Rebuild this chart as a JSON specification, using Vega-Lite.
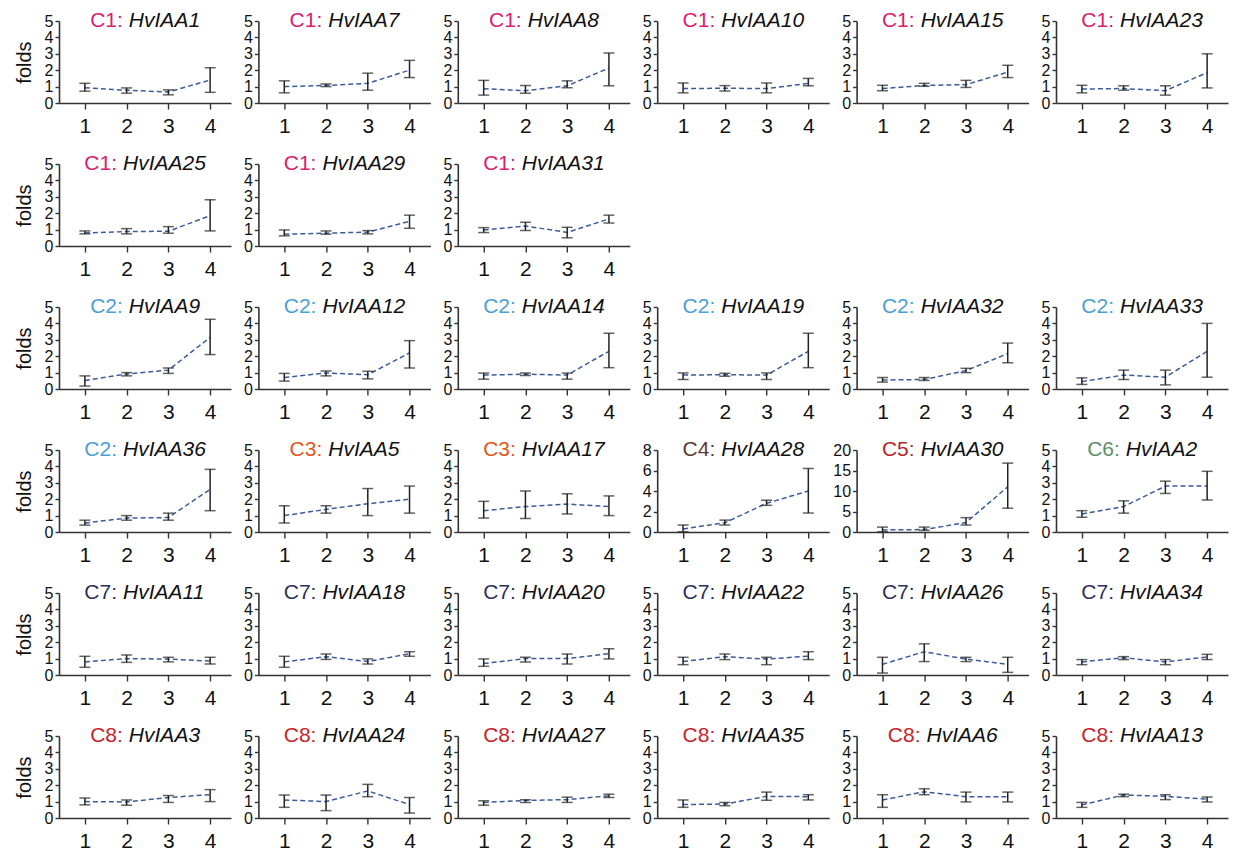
{
"$schema": "https://vega.github.io/schema/vega-lite/v6.json",
"padding": {"left": 14, "top": 10, "right": 5, "bottom": 5},
"background": "white",
"bounds": "flush",
"columns": 6,
"spacing": {"row": 61, "column": 27.4},
"data": {"values": [
{"cl":"C1","g":"HvIAA1","t":1,"m":0.93,"lo":0.72,"hi":1.2},{"cl":"C1","g":"HvIAA1","t":2,"m":0.78,"lo":0.6,"hi":0.92},{"cl":"C1","g":"HvIAA1","t":3,"m":0.67,"lo":0.5,"hi":0.8},{"cl":"C1","g":"HvIAA1","t":4,"m":1.4,"lo":0.65,"hi":2.15},
{"cl":"C1","g":"HvIAA7","t":1,"m":1.0,"lo":0.62,"hi":1.35},{"cl":"C1","g":"HvIAA7","t":2,"m":1.07,"lo":1.0,"hi":1.16},{"cl":"C1","g":"HvIAA7","t":3,"m":1.2,"lo":0.78,"hi":1.82},{"cl":"C1","g":"HvIAA7","t":4,"m":2.0,"lo":1.55,"hi":2.6},
{"cl":"C1","g":"HvIAA8","t":1,"m":0.87,"lo":0.48,"hi":1.38},{"cl":"C1","g":"HvIAA8","t":2,"m":0.75,"lo":0.6,"hi":1.06},{"cl":"C1","g":"HvIAA8","t":3,"m":1.05,"lo":0.93,"hi":1.35},{"cl":"C1","g":"HvIAA8","t":4,"m":2.13,"lo":1.05,"hi":3.05},
{"cl":"C1","g":"HvIAA10","t":1,"m":0.88,"lo":0.62,"hi":1.22},{"cl":"C1","g":"HvIAA10","t":2,"m":0.9,"lo":0.73,"hi":1.06},{"cl":"C1","g":"HvIAA10","t":3,"m":0.88,"lo":0.62,"hi":1.22},{"cl":"C1","g":"HvIAA10","t":4,"m":1.2,"lo":1.05,"hi":1.5},
{"cl":"C1","g":"HvIAA15","t":1,"m":0.88,"lo":0.75,"hi":1.08},{"cl":"C1","g":"HvIAA15","t":2,"m":1.07,"lo":1.02,"hi":1.2},{"cl":"C1","g":"HvIAA15","t":3,"m":1.12,"lo":0.95,"hi":1.38},{"cl":"C1","g":"HvIAA15","t":4,"m":1.88,"lo":1.55,"hi":2.3},
{"cl":"C1","g":"HvIAA23","t":1,"m":0.85,"lo":0.62,"hi":1.08},{"cl":"C1","g":"HvIAA23","t":2,"m":0.88,"lo":0.78,"hi":1.05},{"cl":"C1","g":"HvIAA23","t":3,"m":0.75,"lo":0.48,"hi":1.05},{"cl":"C1","g":"HvIAA23","t":4,"m":1.85,"lo":0.92,"hi":3.0},
{"cl":"C1","g":"HvIAA25","t":1,"m":0.8,"lo":0.74,"hi":0.92},{"cl":"C1","g":"HvIAA25","t":2,"m":0.88,"lo":0.74,"hi":1.06},{"cl":"C1","g":"HvIAA25","t":3,"m":0.9,"lo":0.78,"hi":1.18},{"cl":"C1","g":"HvIAA25","t":4,"m":1.85,"lo":0.92,"hi":2.82},
{"cl":"C1","g":"HvIAA29","t":1,"m":0.72,"lo":0.62,"hi":0.98},{"cl":"C1","g":"HvIAA29","t":2,"m":0.78,"lo":0.72,"hi":0.92},{"cl":"C1","g":"HvIAA29","t":3,"m":0.85,"lo":0.74,"hi":0.94},{"cl":"C1","g":"HvIAA29","t":4,"m":1.5,"lo":1.08,"hi":1.88},
{"cl":"C1","g":"HvIAA31","t":1,"m":0.98,"lo":0.82,"hi":1.12},{"cl":"C1","g":"HvIAA31","t":2,"m":1.22,"lo":0.95,"hi":1.45},{"cl":"C1","g":"HvIAA31","t":3,"m":0.83,"lo":0.5,"hi":1.14},{"cl":"C1","g":"HvIAA31","t":4,"m":1.65,"lo":1.4,"hi":1.88},
{"cl":"C2","g":"HvIAA9","t":1,"m":0.52,"lo":0.18,"hi":0.8},{"cl":"C2","g":"HvIAA9","t":2,"m":0.92,"lo":0.8,"hi":1.0},{"cl":"C2","g":"HvIAA9","t":3,"m":1.15,"lo":0.95,"hi":1.28},{"cl":"C2","g":"HvIAA9","t":4,"m":3.15,"lo":2.1,"hi":4.25},
{"cl":"C2","g":"HvIAA12","t":1,"m":0.7,"lo":0.48,"hi":0.95},{"cl":"C2","g":"HvIAA12","t":2,"m":0.98,"lo":0.8,"hi":1.1},{"cl":"C2","g":"HvIAA12","t":3,"m":0.87,"lo":0.62,"hi":1.08},{"cl":"C2","g":"HvIAA12","t":4,"m":2.2,"lo":1.28,"hi":2.95},
{"cl":"C2","g":"HvIAA14","t":1,"m":0.85,"lo":0.6,"hi":0.97},{"cl":"C2","g":"HvIAA14","t":2,"m":0.9,"lo":0.83,"hi":0.97},{"cl":"C2","g":"HvIAA14","t":3,"m":0.85,"lo":0.6,"hi":0.97},{"cl":"C2","g":"HvIAA14","t":4,"m":2.3,"lo":1.3,"hi":3.4},
{"cl":"C2","g":"HvIAA19","t":1,"m":0.85,"lo":0.58,"hi":0.98},{"cl":"C2","g":"HvIAA19","t":2,"m":0.87,"lo":0.78,"hi":0.96},{"cl":"C2","g":"HvIAA19","t":3,"m":0.85,"lo":0.58,"hi":0.98},{"cl":"C2","g":"HvIAA19","t":4,"m":2.3,"lo":1.3,"hi":3.4},
{"cl":"C2","g":"HvIAA32","t":1,"m":0.55,"lo":0.42,"hi":0.7},{"cl":"C2","g":"HvIAA32","t":2,"m":0.58,"lo":0.52,"hi":0.7},{"cl":"C2","g":"HvIAA32","t":3,"m":1.12,"lo":1.0,"hi":1.26},{"cl":"C2","g":"HvIAA32","t":4,"m":2.15,"lo":1.6,"hi":2.8},
{"cl":"C2","g":"HvIAA33","t":1,"m":0.45,"lo":0.28,"hi":0.68},{"cl":"C2","g":"HvIAA33","t":2,"m":0.85,"lo":0.58,"hi":1.15},{"cl":"C2","g":"HvIAA33","t":3,"m":0.72,"lo":0.25,"hi":1.15},{"cl":"C2","g":"HvIAA33","t":4,"m":2.3,"lo":0.72,"hi":4.0},
{"cl":"C2","g":"HvIAA36","t":1,"m":0.55,"lo":0.42,"hi":0.72},{"cl":"C2","g":"HvIAA36","t":2,"m":0.85,"lo":0.72,"hi":1.0},{"cl":"C2","g":"HvIAA36","t":3,"m":0.88,"lo":0.72,"hi":1.15},{"cl":"C2","g":"HvIAA36","t":4,"m":2.6,"lo":1.3,"hi":3.82},
{"cl":"C3","g":"HvIAA5","t":1,"m":1.0,"lo":0.55,"hi":1.6},{"cl":"C3","g":"HvIAA5","t":2,"m":1.38,"lo":1.15,"hi":1.6},{"cl":"C3","g":"HvIAA5","t":3,"m":1.72,"lo":1.0,"hi":2.65},{"cl":"C3","g":"HvIAA5","t":4,"m":2.0,"lo":1.15,"hi":2.8},
{"cl":"C3","g":"HvIAA17","t":1,"m":1.3,"lo":0.85,"hi":1.87},{"cl":"C3","g":"HvIAA17","t":2,"m":1.55,"lo":0.82,"hi":2.5},{"cl":"C3","g":"HvIAA17","t":3,"m":1.7,"lo":1.1,"hi":2.33},{"cl":"C3","g":"HvIAA17","t":4,"m":1.55,"lo":1.0,"hi":2.2},
{"cl":"C4","g":"HvIAA28","t":1,"m":0.3,"lo":0.02,"hi":0.68},{"cl":"C4","g":"HvIAA28","t":2,"m":0.9,"lo":0.68,"hi":1.16},{"cl":"C4","g":"HvIAA28","t":3,"m":2.8,"lo":2.6,"hi":3.1},{"cl":"C4","g":"HvIAA28","t":4,"m":4.0,"lo":1.85,"hi":6.2},
{"cl":"C5","g":"HvIAA30","t":1,"m":0.5,"lo":0.05,"hi":1.2},{"cl":"C5","g":"HvIAA30","t":2,"m":0.6,"lo":0.4,"hi":1.2},{"cl":"C5","g":"HvIAA30","t":3,"m":2.3,"lo":1.7,"hi":3.5},{"cl":"C5","g":"HvIAA30","t":4,"m":11.0,"lo":5.8,"hi":16.8},
{"cl":"C6","g":"HvIAA2","t":1,"m":1.1,"lo":0.9,"hi":1.3},{"cl":"C6","g":"HvIAA2","t":2,"m":1.55,"lo":1.15,"hi":1.9},{"cl":"C6","g":"HvIAA2","t":3,"m":2.8,"lo":2.35,"hi":3.1},{"cl":"C6","g":"HvIAA2","t":4,"m":2.8,"lo":1.95,"hi":3.7},
{"cl":"C7","g":"HvIAA11","t":1,"m":0.8,"lo":0.47,"hi":1.14},{"cl":"C7","g":"HvIAA11","t":2,"m":1.0,"lo":0.77,"hi":1.22},{"cl":"C7","g":"HvIAA11","t":3,"m":0.97,"lo":0.8,"hi":1.08},{"cl":"C7","g":"HvIAA11","t":4,"m":0.85,"lo":0.67,"hi":1.08},
{"cl":"C7","g":"HvIAA18","t":1,"m":0.8,"lo":0.47,"hi":1.14},{"cl":"C7","g":"HvIAA18","t":2,"m":1.12,"lo":0.95,"hi":1.28},{"cl":"C7","g":"HvIAA18","t":3,"m":0.82,"lo":0.67,"hi":0.98},{"cl":"C7","g":"HvIAA18","t":4,"m":1.3,"lo":1.14,"hi":1.42},
{"cl":"C7","g":"HvIAA20","t":1,"m":0.7,"lo":0.53,"hi":0.98},{"cl":"C7","g":"HvIAA20","t":2,"m":1.0,"lo":0.8,"hi":1.08},{"cl":"C7","g":"HvIAA20","t":3,"m":1.0,"lo":0.67,"hi":1.28},{"cl":"C7","g":"HvIAA20","t":4,"m":1.3,"lo":0.98,"hi":1.6},
{"cl":"C7","g":"HvIAA22","t":1,"m":0.82,"lo":0.63,"hi":1.08},{"cl":"C7","g":"HvIAA22","t":2,"m":1.12,"lo":0.94,"hi":1.28},{"cl":"C7","g":"HvIAA22","t":3,"m":0.97,"lo":0.63,"hi":1.08},{"cl":"C7","g":"HvIAA22","t":4,"m":1.15,"lo":0.94,"hi":1.42},
{"cl":"C7","g":"HvIAA26","t":1,"m":0.65,"lo":0.12,"hi":1.08},{"cl":"C7","g":"HvIAA26","t":2,"m":1.42,"lo":0.82,"hi":1.9},{"cl":"C7","g":"HvIAA26","t":3,"m":0.97,"lo":0.82,"hi":1.08},{"cl":"C7","g":"HvIAA26","t":4,"m":0.65,"lo":0.16,"hi":1.08},
{"cl":"C7","g":"HvIAA34","t":1,"m":0.8,"lo":0.63,"hi":0.94},{"cl":"C7","g":"HvIAA34","t":2,"m":1.05,"lo":0.94,"hi":1.12},{"cl":"C7","g":"HvIAA34","t":3,"m":0.8,"lo":0.63,"hi":0.94},{"cl":"C7","g":"HvIAA34","t":4,"m":1.1,"lo":0.94,"hi":1.26},
{"cl":"C8","g":"HvIAA3","t":1,"m":1.0,"lo":0.8,"hi":1.22},{"cl":"C8","g":"HvIAA3","t":2,"m":0.98,"lo":0.78,"hi":1.1},{"cl":"C8","g":"HvIAA3","t":3,"m":1.25,"lo":0.95,"hi":1.37},{"cl":"C8","g":"HvIAA3","t":4,"m":1.42,"lo":1.0,"hi":1.73},
{"cl":"C8","g":"HvIAA24","t":1,"m":1.1,"lo":0.65,"hi":1.4},{"cl":"C8","g":"HvIAA24","t":2,"m":1.0,"lo":0.45,"hi":1.4},{"cl":"C8","g":"HvIAA24","t":3,"m":1.65,"lo":1.3,"hi":2.05},{"cl":"C8","g":"HvIAA24","t":4,"m":0.82,"lo":0.3,"hi":1.25},
{"cl":"C8","g":"HvIAA27","t":1,"m":0.95,"lo":0.78,"hi":1.05},{"cl":"C8","g":"HvIAA27","t":2,"m":1.07,"lo":0.95,"hi":1.12},{"cl":"C8","g":"HvIAA27","t":3,"m":1.12,"lo":0.95,"hi":1.27},{"cl":"C8","g":"HvIAA27","t":4,"m":1.35,"lo":1.25,"hi":1.45},
{"cl":"C8","g":"HvIAA35","t":1,"m":0.82,"lo":0.65,"hi":1.1},{"cl":"C8","g":"HvIAA35","t":2,"m":0.85,"lo":0.75,"hi":0.95},{"cl":"C8","g":"HvIAA35","t":3,"m":1.32,"lo":1.08,"hi":1.58},{"cl":"C8","g":"HvIAA35","t":4,"m":1.3,"lo":1.1,"hi":1.42},
{"cl":"C8","g":"HvIAA6","t":1,"m":1.1,"lo":0.65,"hi":1.42},{"cl":"C8","g":"HvIAA6","t":2,"m":1.6,"lo":1.42,"hi":1.78},{"cl":"C8","g":"HvIAA6","t":3,"m":1.3,"lo":0.98,"hi":1.58},{"cl":"C8","g":"HvIAA6","t":4,"m":1.3,"lo":0.98,"hi":1.58},
{"cl":"C8","g":"HvIAA13","t":1,"m":0.8,"lo":0.65,"hi":0.95},{"cl":"C8","g":"HvIAA13","t":2,"m":1.4,"lo":1.3,"hi":1.45},{"cl":"C8","g":"HvIAA13","t":3,"m":1.32,"lo":1.12,"hi":1.42},{"cl":"C8","g":"HvIAA13","t":4,"m":1.15,"lo":0.98,"hi":1.28}
]},
"concat": [
{"width":172,"height":82,"transform":[{"filter":"datum.g=='HvIAA1'"}],"encoding":{"x":{"field":"t","type":"quantitative","title":null,"scale":{"domain":[0.38,4.5],"nice":false},"axis":{"values":[1,2,3,4]}}},"layer":[{"mark":"line","encoding":{"y":{"field":"m","type":"quantitative","title":"folds","scale":{"domain":[0,5],"nice":false},"axis":{"tickCount":5}}}},{"mark":{"type":"errorbar","ticks":{"size":11},"color":"#222","thickness":1.5},"encoding":{"y":{"field":"lo","type":"quantitative","title":"folds","axis":{"tickCount":5}},"y2":{"field":"hi"}}},{"transform":[{"filter":"datum.t==1"},{"calculate":"datum.cl+':'","as":"lab"}],"mark":{"type":"text","align":"right"},"encoding":{"x":{"datum":1.91},"y":{"datum":5},"text":{"field":"lab"},"color":{"field":"cl","type":"nominal","legend":null,"scale":{"domain":["C1","C2","C3","C4","C5","C6","C7","C8"],"range":["#d8216f","#4a9fd5","#e4561b","#5b3b2e","#b3262b","#5e8d6b","#2d2f5e","#c8222a"]}}}},{"transform":[{"filter":"datum.t==1"}],"mark":{"type":"text","align":"left","dx":6,"fontStyle":"italic","color":"#111"},"encoding":{"x":{"datum":1.91},"y":{"datum":5},"text":{"field":"g"}}}]},
{"width":172,"height":82,"transform":[{"filter":"datum.g=='HvIAA7'"}],"encoding":{"x":{"field":"t","type":"quantitative","title":null,"scale":{"domain":[0.38,4.5],"nice":false},"axis":{"values":[1,2,3,4]}}},"layer":[{"mark":"line","encoding":{"y":{"field":"m","type":"quantitative","title":null,"scale":{"domain":[0,5],"nice":false},"axis":{"tickCount":5}}}},{"mark":{"type":"errorbar","ticks":{"size":11},"color":"#222","thickness":1.5},"encoding":{"y":{"field":"lo","type":"quantitative","title":null,"axis":{"tickCount":5}},"y2":{"field":"hi"}}},{"transform":[{"filter":"datum.t==1"},{"calculate":"datum.cl+':'","as":"lab"}],"mark":{"type":"text","align":"right"},"encoding":{"x":{"datum":1.91},"y":{"datum":5},"text":{"field":"lab"},"color":{"field":"cl","type":"nominal","legend":null,"scale":{"domain":["C1","C2","C3","C4","C5","C6","C7","C8"],"range":["#d8216f","#4a9fd5","#e4561b","#5b3b2e","#b3262b","#5e8d6b","#2d2f5e","#c8222a"]}}}},{"transform":[{"filter":"datum.t==1"}],"mark":{"type":"text","align":"left","dx":6,"fontStyle":"italic","color":"#111"},"encoding":{"x":{"datum":1.91},"y":{"datum":5},"text":{"field":"g"}}}]},
{"width":172,"height":82,"transform":[{"filter":"datum.g=='HvIAA8'"}],"encoding":{"x":{"field":"t","type":"quantitative","title":null,"scale":{"domain":[0.38,4.5],"nice":false},"axis":{"values":[1,2,3,4]}}},"layer":[{"mark":"line","encoding":{"y":{"field":"m","type":"quantitative","title":null,"scale":{"domain":[0,5],"nice":false},"axis":{"tickCount":5}}}},{"mark":{"type":"errorbar","ticks":{"size":11},"color":"#222","thickness":1.5},"encoding":{"y":{"field":"lo","type":"quantitative","title":null,"axis":{"tickCount":5}},"y2":{"field":"hi"}}},{"transform":[{"filter":"datum.t==1"},{"calculate":"datum.cl+':'","as":"lab"}],"mark":{"type":"text","align":"right"},"encoding":{"x":{"datum":1.91},"y":{"datum":5},"text":{"field":"lab"},"color":{"field":"cl","type":"nominal","legend":null,"scale":{"domain":["C1","C2","C3","C4","C5","C6","C7","C8"],"range":["#d8216f","#4a9fd5","#e4561b","#5b3b2e","#b3262b","#5e8d6b","#2d2f5e","#c8222a"]}}}},{"transform":[{"filter":"datum.t==1"}],"mark":{"type":"text","align":"left","dx":6,"fontStyle":"italic","color":"#111"},"encoding":{"x":{"datum":1.91},"y":{"datum":5},"text":{"field":"g"}}}]},
{"width":172,"height":82,"transform":[{"filter":"datum.g=='HvIAA10'"}],"encoding":{"x":{"field":"t","type":"quantitative","title":null,"scale":{"domain":[0.38,4.5],"nice":false},"axis":{"values":[1,2,3,4]}}},"layer":[{"mark":"line","encoding":{"y":{"field":"m","type":"quantitative","title":null,"scale":{"domain":[0,5],"nice":false},"axis":{"tickCount":5}}}},{"mark":{"type":"errorbar","ticks":{"size":11},"color":"#222","thickness":1.5},"encoding":{"y":{"field":"lo","type":"quantitative","title":null,"axis":{"tickCount":5}},"y2":{"field":"hi"}}},{"transform":[{"filter":"datum.t==1"},{"calculate":"datum.cl+':'","as":"lab"}],"mark":{"type":"text","align":"right"},"encoding":{"x":{"datum":1.77},"y":{"datum":5},"text":{"field":"lab"},"color":{"field":"cl","type":"nominal","legend":null,"scale":{"domain":["C1","C2","C3","C4","C5","C6","C7","C8"],"range":["#d8216f","#4a9fd5","#e4561b","#5b3b2e","#b3262b","#5e8d6b","#2d2f5e","#c8222a"]}}}},{"transform":[{"filter":"datum.t==1"}],"mark":{"type":"text","align":"left","dx":6,"fontStyle":"italic","color":"#111"},"encoding":{"x":{"datum":1.77},"y":{"datum":5},"text":{"field":"g"}}}]},
{"width":172,"height":82,"transform":[{"filter":"datum.g=='HvIAA15'"}],"encoding":{"x":{"field":"t","type":"quantitative","title":null,"scale":{"domain":[0.38,4.5],"nice":false},"axis":{"values":[1,2,3,4]}}},"layer":[{"mark":"line","encoding":{"y":{"field":"m","type":"quantitative","title":null,"scale":{"domain":[0,5],"nice":false},"axis":{"tickCount":5}}}},{"mark":{"type":"errorbar","ticks":{"size":11},"color":"#222","thickness":1.5},"encoding":{"y":{"field":"lo","type":"quantitative","title":null,"axis":{"tickCount":5}},"y2":{"field":"hi"}}},{"transform":[{"filter":"datum.t==1"},{"calculate":"datum.cl+':'","as":"lab"}],"mark":{"type":"text","align":"right"},"encoding":{"x":{"datum":1.77},"y":{"datum":5},"text":{"field":"lab"},"color":{"field":"cl","type":"nominal","legend":null,"scale":{"domain":["C1","C2","C3","C4","C5","C6","C7","C8"],"range":["#d8216f","#4a9fd5","#e4561b","#5b3b2e","#b3262b","#5e8d6b","#2d2f5e","#c8222a"]}}}},{"transform":[{"filter":"datum.t==1"}],"mark":{"type":"text","align":"left","dx":6,"fontStyle":"italic","color":"#111"},"encoding":{"x":{"datum":1.77},"y":{"datum":5},"text":{"field":"g"}}}]},
{"width":172,"height":82,"transform":[{"filter":"datum.g=='HvIAA23'"}],"encoding":{"x":{"field":"t","type":"quantitative","title":null,"scale":{"domain":[0.38,4.5],"nice":false},"axis":{"values":[1,2,3,4]}}},"layer":[{"mark":"line","encoding":{"y":{"field":"m","type":"quantitative","title":null,"scale":{"domain":[0,5],"nice":false},"axis":{"tickCount":5}}}},{"mark":{"type":"errorbar","ticks":{"size":11},"color":"#222","thickness":1.5},"encoding":{"y":{"field":"lo","type":"quantitative","title":null,"axis":{"tickCount":5}},"y2":{"field":"hi"}}},{"transform":[{"filter":"datum.t==1"},{"calculate":"datum.cl+':'","as":"lab"}],"mark":{"type":"text","align":"right"},"encoding":{"x":{"datum":1.77},"y":{"datum":5},"text":{"field":"lab"},"color":{"field":"cl","type":"nominal","legend":null,"scale":{"domain":["C1","C2","C3","C4","C5","C6","C7","C8"],"range":["#d8216f","#4a9fd5","#e4561b","#5b3b2e","#b3262b","#5e8d6b","#2d2f5e","#c8222a"]}}}},{"transform":[{"filter":"datum.t==1"}],"mark":{"type":"text","align":"left","dx":6,"fontStyle":"italic","color":"#111"},"encoding":{"x":{"datum":1.77},"y":{"datum":5},"text":{"field":"g"}}}]},
{"width":172,"height":82,"transform":[{"filter":"datum.g=='HvIAA25'"}],"encoding":{"x":{"field":"t","type":"quantitative","title":null,"scale":{"domain":[0.38,4.5],"nice":false},"axis":{"values":[1,2,3,4]}}},"layer":[{"mark":"line","encoding":{"y":{"field":"m","type":"quantitative","title":"folds","scale":{"domain":[0,5],"nice":false},"axis":{"tickCount":5}}}},{"mark":{"type":"errorbar","ticks":{"size":11},"color":"#222","thickness":1.5},"encoding":{"y":{"field":"lo","type":"quantitative","title":"folds","axis":{"tickCount":5}},"y2":{"field":"hi"}}},{"transform":[{"filter":"datum.t==1"},{"calculate":"datum.cl+':'","as":"lab"}],"mark":{"type":"text","align":"right"},"encoding":{"x":{"datum":1.77},"y":{"datum":5},"text":{"field":"lab"},"color":{"field":"cl","type":"nominal","legend":null,"scale":{"domain":["C1","C2","C3","C4","C5","C6","C7","C8"],"range":["#d8216f","#4a9fd5","#e4561b","#5b3b2e","#b3262b","#5e8d6b","#2d2f5e","#c8222a"]}}}},{"transform":[{"filter":"datum.t==1"}],"mark":{"type":"text","align":"left","dx":6,"fontStyle":"italic","color":"#111"},"encoding":{"x":{"datum":1.77},"y":{"datum":5},"text":{"field":"g"}}}]},
{"width":172,"height":82,"transform":[{"filter":"datum.g=='HvIAA29'"}],"encoding":{"x":{"field":"t","type":"quantitative","title":null,"scale":{"domain":[0.38,4.5],"nice":false},"axis":{"values":[1,2,3,4]}}},"layer":[{"mark":"line","encoding":{"y":{"field":"m","type":"quantitative","title":null,"scale":{"domain":[0,5],"nice":false},"axis":{"tickCount":5}}}},{"mark":{"type":"errorbar","ticks":{"size":11},"color":"#222","thickness":1.5},"encoding":{"y":{"field":"lo","type":"quantitative","title":null,"axis":{"tickCount":5}},"y2":{"field":"hi"}}},{"transform":[{"filter":"datum.t==1"},{"calculate":"datum.cl+':'","as":"lab"}],"mark":{"type":"text","align":"right"},"encoding":{"x":{"datum":1.77},"y":{"datum":5},"text":{"field":"lab"},"color":{"field":"cl","type":"nominal","legend":null,"scale":{"domain":["C1","C2","C3","C4","C5","C6","C7","C8"],"range":["#d8216f","#4a9fd5","#e4561b","#5b3b2e","#b3262b","#5e8d6b","#2d2f5e","#c8222a"]}}}},{"transform":[{"filter":"datum.t==1"}],"mark":{"type":"text","align":"left","dx":6,"fontStyle":"italic","color":"#111"},"encoding":{"x":{"datum":1.77},"y":{"datum":5},"text":{"field":"g"}}}]},
{"width":172,"height":82,"transform":[{"filter":"datum.g=='HvIAA31'"}],"encoding":{"x":{"field":"t","type":"quantitative","title":null,"scale":{"domain":[0.38,4.5],"nice":false},"axis":{"values":[1,2,3,4]}}},"layer":[{"mark":"line","encoding":{"y":{"field":"m","type":"quantitative","title":null,"scale":{"domain":[0,5],"nice":false},"axis":{"tickCount":5}}}},{"mark":{"type":"errorbar","ticks":{"size":11},"color":"#222","thickness":1.5},"encoding":{"y":{"field":"lo","type":"quantitative","title":null,"axis":{"tickCount":5}},"y2":{"field":"hi"}}},{"transform":[{"filter":"datum.t==1"},{"calculate":"datum.cl+':'","as":"lab"}],"mark":{"type":"text","align":"right"},"encoding":{"x":{"datum":1.77},"y":{"datum":5},"text":{"field":"lab"},"color":{"field":"cl","type":"nominal","legend":null,"scale":{"domain":["C1","C2","C3","C4","C5","C6","C7","C8"],"range":["#d8216f","#4a9fd5","#e4561b","#5b3b2e","#b3262b","#5e8d6b","#2d2f5e","#c8222a"]}}}},{"transform":[{"filter":"datum.t==1"}],"mark":{"type":"text","align":"left","dx":6,"fontStyle":"italic","color":"#111"},"encoding":{"x":{"datum":1.77},"y":{"datum":5},"text":{"field":"g"}}}]},
{"width":172,"height":82,"data":{"values":[]},"mark":"point"},
{"width":172,"height":82,"data":{"values":[]},"mark":"point"},
{"width":172,"height":82,"data":{"values":[]},"mark":"point"},
{"width":172,"height":82,"transform":[{"filter":"datum.g=='HvIAA9'"}],"encoding":{"x":{"field":"t","type":"quantitative","title":null,"scale":{"domain":[0.38,4.5],"nice":false},"axis":{"values":[1,2,3,4]}}},"layer":[{"mark":"line","encoding":{"y":{"field":"m","type":"quantitative","title":"folds","scale":{"domain":[0,5],"nice":false},"axis":{"tickCount":5}}}},{"mark":{"type":"errorbar","ticks":{"size":11},"color":"#222","thickness":1.5},"encoding":{"y":{"field":"lo","type":"quantitative","title":"folds","axis":{"tickCount":5}},"y2":{"field":"hi"}}},{"transform":[{"filter":"datum.t==1"},{"calculate":"datum.cl+':'","as":"lab"}],"mark":{"type":"text","align":"right"},"encoding":{"x":{"datum":1.91},"y":{"datum":5},"text":{"field":"lab"},"color":{"field":"cl","type":"nominal","legend":null,"scale":{"domain":["C1","C2","C3","C4","C5","C6","C7","C8"],"range":["#d8216f","#4a9fd5","#e4561b","#5b3b2e","#b3262b","#5e8d6b","#2d2f5e","#c8222a"]}}}},{"transform":[{"filter":"datum.t==1"}],"mark":{"type":"text","align":"left","dx":6,"fontStyle":"italic","color":"#111"},"encoding":{"x":{"datum":1.91},"y":{"datum":5},"text":{"field":"g"}}}]},
{"width":172,"height":82,"transform":[{"filter":"datum.g=='HvIAA12'"}],"encoding":{"x":{"field":"t","type":"quantitative","title":null,"scale":{"domain":[0.38,4.5],"nice":false},"axis":{"values":[1,2,3,4]}}},"layer":[{"mark":"line","encoding":{"y":{"field":"m","type":"quantitative","title":null,"scale":{"domain":[0,5],"nice":false},"axis":{"tickCount":5}}}},{"mark":{"type":"errorbar","ticks":{"size":11},"color":"#222","thickness":1.5},"encoding":{"y":{"field":"lo","type":"quantitative","title":null,"axis":{"tickCount":5}},"y2":{"field":"hi"}}},{"transform":[{"filter":"datum.t==1"},{"calculate":"datum.cl+':'","as":"lab"}],"mark":{"type":"text","align":"right"},"encoding":{"x":{"datum":1.77},"y":{"datum":5},"text":{"field":"lab"},"color":{"field":"cl","type":"nominal","legend":null,"scale":{"domain":["C1","C2","C3","C4","C5","C6","C7","C8"],"range":["#d8216f","#4a9fd5","#e4561b","#5b3b2e","#b3262b","#5e8d6b","#2d2f5e","#c8222a"]}}}},{"transform":[{"filter":"datum.t==1"}],"mark":{"type":"text","align":"left","dx":6,"fontStyle":"italic","color":"#111"},"encoding":{"x":{"datum":1.77},"y":{"datum":5},"text":{"field":"g"}}}]},
{"width":172,"height":82,"transform":[{"filter":"datum.g=='HvIAA14'"}],"encoding":{"x":{"field":"t","type":"quantitative","title":null,"scale":{"domain":[0.38,4.5],"nice":false},"axis":{"values":[1,2,3,4]}}},"layer":[{"mark":"line","encoding":{"y":{"field":"m","type":"quantitative","title":null,"scale":{"domain":[0,5],"nice":false},"axis":{"tickCount":5}}}},{"mark":{"type":"errorbar","ticks":{"size":11},"color":"#222","thickness":1.5},"encoding":{"y":{"field":"lo","type":"quantitative","title":null,"axis":{"tickCount":5}},"y2":{"field":"hi"}}},{"transform":[{"filter":"datum.t==1"},{"calculate":"datum.cl+':'","as":"lab"}],"mark":{"type":"text","align":"right"},"encoding":{"x":{"datum":1.77},"y":{"datum":5},"text":{"field":"lab"},"color":{"field":"cl","type":"nominal","legend":null,"scale":{"domain":["C1","C2","C3","C4","C5","C6","C7","C8"],"range":["#d8216f","#4a9fd5","#e4561b","#5b3b2e","#b3262b","#5e8d6b","#2d2f5e","#c8222a"]}}}},{"transform":[{"filter":"datum.t==1"}],"mark":{"type":"text","align":"left","dx":6,"fontStyle":"italic","color":"#111"},"encoding":{"x":{"datum":1.77},"y":{"datum":5},"text":{"field":"g"}}}]},
{"width":172,"height":82,"transform":[{"filter":"datum.g=='HvIAA19'"}],"encoding":{"x":{"field":"t","type":"quantitative","title":null,"scale":{"domain":[0.38,4.5],"nice":false},"axis":{"values":[1,2,3,4]}}},"layer":[{"mark":"line","encoding":{"y":{"field":"m","type":"quantitative","title":null,"scale":{"domain":[0,5],"nice":false},"axis":{"tickCount":5}}}},{"mark":{"type":"errorbar","ticks":{"size":11},"color":"#222","thickness":1.5},"encoding":{"y":{"field":"lo","type":"quantitative","title":null,"axis":{"tickCount":5}},"y2":{"field":"hi"}}},{"transform":[{"filter":"datum.t==1"},{"calculate":"datum.cl+':'","as":"lab"}],"mark":{"type":"text","align":"right"},"encoding":{"x":{"datum":1.77},"y":{"datum":5},"text":{"field":"lab"},"color":{"field":"cl","type":"nominal","legend":null,"scale":{"domain":["C1","C2","C3","C4","C5","C6","C7","C8"],"range":["#d8216f","#4a9fd5","#e4561b","#5b3b2e","#b3262b","#5e8d6b","#2d2f5e","#c8222a"]}}}},{"transform":[{"filter":"datum.t==1"}],"mark":{"type":"text","align":"left","dx":6,"fontStyle":"italic","color":"#111"},"encoding":{"x":{"datum":1.77},"y":{"datum":5},"text":{"field":"g"}}}]},
{"width":172,"height":82,"transform":[{"filter":"datum.g=='HvIAA32'"}],"encoding":{"x":{"field":"t","type":"quantitative","title":null,"scale":{"domain":[0.38,4.5],"nice":false},"axis":{"values":[1,2,3,4]}}},"layer":[{"mark":"line","encoding":{"y":{"field":"m","type":"quantitative","title":null,"scale":{"domain":[0,5],"nice":false},"axis":{"tickCount":5}}}},{"mark":{"type":"errorbar","ticks":{"size":11},"color":"#222","thickness":1.5},"encoding":{"y":{"field":"lo","type":"quantitative","title":null,"axis":{"tickCount":5}},"y2":{"field":"hi"}}},{"transform":[{"filter":"datum.t==1"},{"calculate":"datum.cl+':'","as":"lab"}],"mark":{"type":"text","align":"right"},"encoding":{"x":{"datum":1.77},"y":{"datum":5},"text":{"field":"lab"},"color":{"field":"cl","type":"nominal","legend":null,"scale":{"domain":["C1","C2","C3","C4","C5","C6","C7","C8"],"range":["#d8216f","#4a9fd5","#e4561b","#5b3b2e","#b3262b","#5e8d6b","#2d2f5e","#c8222a"]}}}},{"transform":[{"filter":"datum.t==1"}],"mark":{"type":"text","align":"left","dx":6,"fontStyle":"italic","color":"#111"},"encoding":{"x":{"datum":1.77},"y":{"datum":5},"text":{"field":"g"}}}]},
{"width":172,"height":82,"transform":[{"filter":"datum.g=='HvIAA33'"}],"encoding":{"x":{"field":"t","type":"quantitative","title":null,"scale":{"domain":[0.38,4.5],"nice":false},"axis":{"values":[1,2,3,4]}}},"layer":[{"mark":"line","encoding":{"y":{"field":"m","type":"quantitative","title":null,"scale":{"domain":[0,5],"nice":false},"axis":{"tickCount":5}}}},{"mark":{"type":"errorbar","ticks":{"size":11},"color":"#222","thickness":1.5},"encoding":{"y":{"field":"lo","type":"quantitative","title":null,"axis":{"tickCount":5}},"y2":{"field":"hi"}}},{"transform":[{"filter":"datum.t==1"},{"calculate":"datum.cl+':'","as":"lab"}],"mark":{"type":"text","align":"right"},"encoding":{"x":{"datum":1.77},"y":{"datum":5},"text":{"field":"lab"},"color":{"field":"cl","type":"nominal","legend":null,"scale":{"domain":["C1","C2","C3","C4","C5","C6","C7","C8"],"range":["#d8216f","#4a9fd5","#e4561b","#5b3b2e","#b3262b","#5e8d6b","#2d2f5e","#c8222a"]}}}},{"transform":[{"filter":"datum.t==1"}],"mark":{"type":"text","align":"left","dx":6,"fontStyle":"italic","color":"#111"},"encoding":{"x":{"datum":1.77},"y":{"datum":5},"text":{"field":"g"}}}]},
{"width":172,"height":82,"transform":[{"filter":"datum.g=='HvIAA36'"}],"encoding":{"x":{"field":"t","type":"quantitative","title":null,"scale":{"domain":[0.38,4.5],"nice":false},"axis":{"values":[1,2,3,4]}}},"layer":[{"mark":"line","encoding":{"y":{"field":"m","type":"quantitative","title":"folds","scale":{"domain":[0,5],"nice":false},"axis":{"tickCount":5}}}},{"mark":{"type":"errorbar","ticks":{"size":11},"color":"#222","thickness":1.5},"encoding":{"y":{"field":"lo","type":"quantitative","title":"folds","axis":{"tickCount":5}},"y2":{"field":"hi"}}},{"transform":[{"filter":"datum.t==1"},{"calculate":"datum.cl+':'","as":"lab"}],"mark":{"type":"text","align":"right"},"encoding":{"x":{"datum":1.77},"y":{"datum":5},"text":{"field":"lab"},"color":{"field":"cl","type":"nominal","legend":null,"scale":{"domain":["C1","C2","C3","C4","C5","C6","C7","C8"],"range":["#d8216f","#4a9fd5","#e4561b","#5b3b2e","#b3262b","#5e8d6b","#2d2f5e","#c8222a"]}}}},{"transform":[{"filter":"datum.t==1"}],"mark":{"type":"text","align":"left","dx":6,"fontStyle":"italic","color":"#111"},"encoding":{"x":{"datum":1.77},"y":{"datum":5},"text":{"field":"g"}}}]},
{"width":172,"height":82,"transform":[{"filter":"datum.g=='HvIAA5'"}],"encoding":{"x":{"field":"t","type":"quantitative","title":null,"scale":{"domain":[0.38,4.5],"nice":false},"axis":{"values":[1,2,3,4]}}},"layer":[{"mark":"line","encoding":{"y":{"field":"m","type":"quantitative","title":null,"scale":{"domain":[0,5],"nice":false},"axis":{"tickCount":5}}}},{"mark":{"type":"errorbar","ticks":{"size":11},"color":"#222","thickness":1.5},"encoding":{"y":{"field":"lo","type":"quantitative","title":null,"axis":{"tickCount":5}},"y2":{"field":"hi"}}},{"transform":[{"filter":"datum.t==1"},{"calculate":"datum.cl+':'","as":"lab"}],"mark":{"type":"text","align":"right"},"encoding":{"x":{"datum":1.91},"y":{"datum":5},"text":{"field":"lab"},"color":{"field":"cl","type":"nominal","legend":null,"scale":{"domain":["C1","C2","C3","C4","C5","C6","C7","C8"],"range":["#d8216f","#4a9fd5","#e4561b","#5b3b2e","#b3262b","#5e8d6b","#2d2f5e","#c8222a"]}}}},{"transform":[{"filter":"datum.t==1"}],"mark":{"type":"text","align":"left","dx":6,"fontStyle":"italic","color":"#111"},"encoding":{"x":{"datum":1.91},"y":{"datum":5},"text":{"field":"g"}}}]},
{"width":172,"height":82,"transform":[{"filter":"datum.g=='HvIAA17'"}],"encoding":{"x":{"field":"t","type":"quantitative","title":null,"scale":{"domain":[0.38,4.5],"nice":false},"axis":{"values":[1,2,3,4]}}},"layer":[{"mark":"line","encoding":{"y":{"field":"m","type":"quantitative","title":null,"scale":{"domain":[0,5],"nice":false},"axis":{"tickCount":5}}}},{"mark":{"type":"errorbar","ticks":{"size":11},"color":"#222","thickness":1.5},"encoding":{"y":{"field":"lo","type":"quantitative","title":null,"axis":{"tickCount":5}},"y2":{"field":"hi"}}},{"transform":[{"filter":"datum.t==1"},{"calculate":"datum.cl+':'","as":"lab"}],"mark":{"type":"text","align":"right"},"encoding":{"x":{"datum":1.77},"y":{"datum":5},"text":{"field":"lab"},"color":{"field":"cl","type":"nominal","legend":null,"scale":{"domain":["C1","C2","C3","C4","C5","C6","C7","C8"],"range":["#d8216f","#4a9fd5","#e4561b","#5b3b2e","#b3262b","#5e8d6b","#2d2f5e","#c8222a"]}}}},{"transform":[{"filter":"datum.t==1"}],"mark":{"type":"text","align":"left","dx":6,"fontStyle":"italic","color":"#111"},"encoding":{"x":{"datum":1.77},"y":{"datum":5},"text":{"field":"g"}}}]},
{"width":172,"height":82,"transform":[{"filter":"datum.g=='HvIAA28'"}],"encoding":{"x":{"field":"t","type":"quantitative","title":null,"scale":{"domain":[0.38,4.5],"nice":false},"axis":{"values":[1,2,3,4]}}},"layer":[{"mark":"line","encoding":{"y":{"field":"m","type":"quantitative","title":null,"scale":{"domain":[0,8],"nice":false},"axis":{"tickCount":5}}}},{"mark":{"type":"errorbar","ticks":{"size":11},"color":"#222","thickness":1.5},"encoding":{"y":{"field":"lo","type":"quantitative","title":null,"axis":{"tickCount":5}},"y2":{"field":"hi"}}},{"transform":[{"filter":"datum.t==1"},{"calculate":"datum.cl+':'","as":"lab"}],"mark":{"type":"text","align":"right"},"encoding":{"x":{"datum":1.77},"y":{"datum":8},"text":{"field":"lab"},"color":{"field":"cl","type":"nominal","legend":null,"scale":{"domain":["C1","C2","C3","C4","C5","C6","C7","C8"],"range":["#d8216f","#4a9fd5","#e4561b","#5b3b2e","#b3262b","#5e8d6b","#2d2f5e","#c8222a"]}}}},{"transform":[{"filter":"datum.t==1"}],"mark":{"type":"text","align":"left","dx":6,"fontStyle":"italic","color":"#111"},"encoding":{"x":{"datum":1.77},"y":{"datum":8},"text":{"field":"g"}}}]},
{"width":172,"height":82,"transform":[{"filter":"datum.g=='HvIAA30'"}],"encoding":{"x":{"field":"t","type":"quantitative","title":null,"scale":{"domain":[0.38,4.5],"nice":false},"axis":{"values":[1,2,3,4]}}},"layer":[{"mark":"line","encoding":{"y":{"field":"m","type":"quantitative","title":null,"scale":{"domain":[0,20],"nice":false},"axis":{"tickCount":5}}}},{"mark":{"type":"errorbar","ticks":{"size":11},"color":"#222","thickness":1.5},"encoding":{"y":{"field":"lo","type":"quantitative","title":null,"axis":{"tickCount":5}},"y2":{"field":"hi"}}},{"transform":[{"filter":"datum.t==1"},{"calculate":"datum.cl+':'","as":"lab"}],"mark":{"type":"text","align":"right"},"encoding":{"x":{"datum":1.77},"y":{"datum":20},"text":{"field":"lab"},"color":{"field":"cl","type":"nominal","legend":null,"scale":{"domain":["C1","C2","C3","C4","C5","C6","C7","C8"],"range":["#d8216f","#4a9fd5","#e4561b","#5b3b2e","#b3262b","#5e8d6b","#2d2f5e","#c8222a"]}}}},{"transform":[{"filter":"datum.t==1"}],"mark":{"type":"text","align":"left","dx":6,"fontStyle":"italic","color":"#111"},"encoding":{"x":{"datum":1.77},"y":{"datum":20},"text":{"field":"g"}}}]},
{"width":172,"height":82,"transform":[{"filter":"datum.g=='HvIAA2'"}],"encoding":{"x":{"field":"t","type":"quantitative","title":null,"scale":{"domain":[0.38,4.5],"nice":false},"axis":{"values":[1,2,3,4]}}},"layer":[{"mark":"line","encoding":{"y":{"field":"m","type":"quantitative","title":null,"scale":{"domain":[0,5],"nice":false},"axis":{"tickCount":5}}}},{"mark":{"type":"errorbar","ticks":{"size":11},"color":"#222","thickness":1.5},"encoding":{"y":{"field":"lo","type":"quantitative","title":null,"axis":{"tickCount":5}},"y2":{"field":"hi"}}},{"transform":[{"filter":"datum.t==1"},{"calculate":"datum.cl+':'","as":"lab"}],"mark":{"type":"text","align":"right"},"encoding":{"x":{"datum":1.91},"y":{"datum":5},"text":{"field":"lab"},"color":{"field":"cl","type":"nominal","legend":null,"scale":{"domain":["C1","C2","C3","C4","C5","C6","C7","C8"],"range":["#d8216f","#4a9fd5","#e4561b","#5b3b2e","#b3262b","#5e8d6b","#2d2f5e","#c8222a"]}}}},{"transform":[{"filter":"datum.t==1"}],"mark":{"type":"text","align":"left","dx":6,"fontStyle":"italic","color":"#111"},"encoding":{"x":{"datum":1.91},"y":{"datum":5},"text":{"field":"g"}}}]},
{"width":172,"height":82,"transform":[{"filter":"datum.g=='HvIAA11'"}],"encoding":{"x":{"field":"t","type":"quantitative","title":null,"scale":{"domain":[0.38,4.5],"nice":false},"axis":{"values":[1,2,3,4]}}},"layer":[{"mark":"line","encoding":{"y":{"field":"m","type":"quantitative","title":"folds","scale":{"domain":[0,5],"nice":false},"axis":{"tickCount":5}}}},{"mark":{"type":"errorbar","ticks":{"size":11},"color":"#222","thickness":1.5},"encoding":{"y":{"field":"lo","type":"quantitative","title":"folds","axis":{"tickCount":5}},"y2":{"field":"hi"}}},{"transform":[{"filter":"datum.t==1"},{"calculate":"datum.cl+':'","as":"lab"}],"mark":{"type":"text","align":"right"},"encoding":{"x":{"datum":1.77},"y":{"datum":5},"text":{"field":"lab"},"color":{"field":"cl","type":"nominal","legend":null,"scale":{"domain":["C1","C2","C3","C4","C5","C6","C7","C8"],"range":["#d8216f","#4a9fd5","#e4561b","#5b3b2e","#b3262b","#5e8d6b","#2d2f5e","#c8222a"]}}}},{"transform":[{"filter":"datum.t==1"}],"mark":{"type":"text","align":"left","dx":6,"fontStyle":"italic","color":"#111"},"encoding":{"x":{"datum":1.77},"y":{"datum":5},"text":{"field":"g"}}}]},
{"width":172,"height":82,"transform":[{"filter":"datum.g=='HvIAA18'"}],"encoding":{"x":{"field":"t","type":"quantitative","title":null,"scale":{"domain":[0.38,4.5],"nice":false},"axis":{"values":[1,2,3,4]}}},"layer":[{"mark":"line","encoding":{"y":{"field":"m","type":"quantitative","title":null,"scale":{"domain":[0,5],"nice":false},"axis":{"tickCount":5}}}},{"mark":{"type":"errorbar","ticks":{"size":11},"color":"#222","thickness":1.5},"encoding":{"y":{"field":"lo","type":"quantitative","title":null,"axis":{"tickCount":5}},"y2":{"field":"hi"}}},{"transform":[{"filter":"datum.t==1"},{"calculate":"datum.cl+':'","as":"lab"}],"mark":{"type":"text","align":"right"},"encoding":{"x":{"datum":1.77},"y":{"datum":5},"text":{"field":"lab"},"color":{"field":"cl","type":"nominal","legend":null,"scale":{"domain":["C1","C2","C3","C4","C5","C6","C7","C8"],"range":["#d8216f","#4a9fd5","#e4561b","#5b3b2e","#b3262b","#5e8d6b","#2d2f5e","#c8222a"]}}}},{"transform":[{"filter":"datum.t==1"}],"mark":{"type":"text","align":"left","dx":6,"fontStyle":"italic","color":"#111"},"encoding":{"x":{"datum":1.77},"y":{"datum":5},"text":{"field":"g"}}}]},
{"width":172,"height":82,"transform":[{"filter":"datum.g=='HvIAA20'"}],"encoding":{"x":{"field":"t","type":"quantitative","title":null,"scale":{"domain":[0.38,4.5],"nice":false},"axis":{"values":[1,2,3,4]}}},"layer":[{"mark":"line","encoding":{"y":{"field":"m","type":"quantitative","title":null,"scale":{"domain":[0,5],"nice":false},"axis":{"tickCount":5}}}},{"mark":{"type":"errorbar","ticks":{"size":11},"color":"#222","thickness":1.5},"encoding":{"y":{"field":"lo","type":"quantitative","title":null,"axis":{"tickCount":5}},"y2":{"field":"hi"}}},{"transform":[{"filter":"datum.t==1"},{"calculate":"datum.cl+':'","as":"lab"}],"mark":{"type":"text","align":"right"},"encoding":{"x":{"datum":1.77},"y":{"datum":5},"text":{"field":"lab"},"color":{"field":"cl","type":"nominal","legend":null,"scale":{"domain":["C1","C2","C3","C4","C5","C6","C7","C8"],"range":["#d8216f","#4a9fd5","#e4561b","#5b3b2e","#b3262b","#5e8d6b","#2d2f5e","#c8222a"]}}}},{"transform":[{"filter":"datum.t==1"}],"mark":{"type":"text","align":"left","dx":6,"fontStyle":"italic","color":"#111"},"encoding":{"x":{"datum":1.77},"y":{"datum":5},"text":{"field":"g"}}}]},
{"width":172,"height":82,"transform":[{"filter":"datum.g=='HvIAA22'"}],"encoding":{"x":{"field":"t","type":"quantitative","title":null,"scale":{"domain":[0.38,4.5],"nice":false},"axis":{"values":[1,2,3,4]}}},"layer":[{"mark":"line","encoding":{"y":{"field":"m","type":"quantitative","title":null,"scale":{"domain":[0,5],"nice":false},"axis":{"tickCount":5}}}},{"mark":{"type":"errorbar","ticks":{"size":11},"color":"#222","thickness":1.5},"encoding":{"y":{"field":"lo","type":"quantitative","title":null,"axis":{"tickCount":5}},"y2":{"field":"hi"}}},{"transform":[{"filter":"datum.t==1"},{"calculate":"datum.cl+':'","as":"lab"}],"mark":{"type":"text","align":"right"},"encoding":{"x":{"datum":1.77},"y":{"datum":5},"text":{"field":"lab"},"color":{"field":"cl","type":"nominal","legend":null,"scale":{"domain":["C1","C2","C3","C4","C5","C6","C7","C8"],"range":["#d8216f","#4a9fd5","#e4561b","#5b3b2e","#b3262b","#5e8d6b","#2d2f5e","#c8222a"]}}}},{"transform":[{"filter":"datum.t==1"}],"mark":{"type":"text","align":"left","dx":6,"fontStyle":"italic","color":"#111"},"encoding":{"x":{"datum":1.77},"y":{"datum":5},"text":{"field":"g"}}}]},
{"width":172,"height":82,"transform":[{"filter":"datum.g=='HvIAA26'"}],"encoding":{"x":{"field":"t","type":"quantitative","title":null,"scale":{"domain":[0.38,4.5],"nice":false},"axis":{"values":[1,2,3,4]}}},"layer":[{"mark":"line","encoding":{"y":{"field":"m","type":"quantitative","title":null,"scale":{"domain":[0,5],"nice":false},"axis":{"tickCount":5}}}},{"mark":{"type":"errorbar","ticks":{"size":11},"color":"#222","thickness":1.5},"encoding":{"y":{"field":"lo","type":"quantitative","title":null,"axis":{"tickCount":5}},"y2":{"field":"hi"}}},{"transform":[{"filter":"datum.t==1"},{"calculate":"datum.cl+':'","as":"lab"}],"mark":{"type":"text","align":"right"},"encoding":{"x":{"datum":1.77},"y":{"datum":5},"text":{"field":"lab"},"color":{"field":"cl","type":"nominal","legend":null,"scale":{"domain":["C1","C2","C3","C4","C5","C6","C7","C8"],"range":["#d8216f","#4a9fd5","#e4561b","#5b3b2e","#b3262b","#5e8d6b","#2d2f5e","#c8222a"]}}}},{"transform":[{"filter":"datum.t==1"}],"mark":{"type":"text","align":"left","dx":6,"fontStyle":"italic","color":"#111"},"encoding":{"x":{"datum":1.77},"y":{"datum":5},"text":{"field":"g"}}}]},
{"width":172,"height":82,"transform":[{"filter":"datum.g=='HvIAA34'"}],"encoding":{"x":{"field":"t","type":"quantitative","title":null,"scale":{"domain":[0.38,4.5],"nice":false},"axis":{"values":[1,2,3,4]}}},"layer":[{"mark":"line","encoding":{"y":{"field":"m","type":"quantitative","title":null,"scale":{"domain":[0,5],"nice":false},"axis":{"tickCount":5}}}},{"mark":{"type":"errorbar","ticks":{"size":11},"color":"#222","thickness":1.5},"encoding":{"y":{"field":"lo","type":"quantitative","title":null,"axis":{"tickCount":5}},"y2":{"field":"hi"}}},{"transform":[{"filter":"datum.t==1"},{"calculate":"datum.cl+':'","as":"lab"}],"mark":{"type":"text","align":"right"},"encoding":{"x":{"datum":1.77},"y":{"datum":5},"text":{"field":"lab"},"color":{"field":"cl","type":"nominal","legend":null,"scale":{"domain":["C1","C2","C3","C4","C5","C6","C7","C8"],"range":["#d8216f","#4a9fd5","#e4561b","#5b3b2e","#b3262b","#5e8d6b","#2d2f5e","#c8222a"]}}}},{"transform":[{"filter":"datum.t==1"}],"mark":{"type":"text","align":"left","dx":6,"fontStyle":"italic","color":"#111"},"encoding":{"x":{"datum":1.77},"y":{"datum":5},"text":{"field":"g"}}}]},
{"width":172,"height":82,"transform":[{"filter":"datum.g=='HvIAA3'"}],"encoding":{"x":{"field":"t","type":"quantitative","title":null,"scale":{"domain":[0.38,4.5],"nice":false},"axis":{"values":[1,2,3,4]}}},"layer":[{"mark":"line","encoding":{"y":{"field":"m","type":"quantitative","title":"folds","scale":{"domain":[0,5],"nice":false},"axis":{"tickCount":5}}}},{"mark":{"type":"errorbar","ticks":{"size":11},"color":"#222","thickness":1.5},"encoding":{"y":{"field":"lo","type":"quantitative","title":"folds","axis":{"tickCount":5}},"y2":{"field":"hi"}}},{"transform":[{"filter":"datum.t==1"},{"calculate":"datum.cl+':'","as":"lab"}],"mark":{"type":"text","align":"right"},"encoding":{"x":{"datum":1.91},"y":{"datum":5},"text":{"field":"lab"},"color":{"field":"cl","type":"nominal","legend":null,"scale":{"domain":["C1","C2","C3","C4","C5","C6","C7","C8"],"range":["#d8216f","#4a9fd5","#e4561b","#5b3b2e","#b3262b","#5e8d6b","#2d2f5e","#c8222a"]}}}},{"transform":[{"filter":"datum.t==1"}],"mark":{"type":"text","align":"left","dx":6,"fontStyle":"italic","color":"#111"},"encoding":{"x":{"datum":1.91},"y":{"datum":5},"text":{"field":"g"}}}]},
{"width":172,"height":82,"transform":[{"filter":"datum.g=='HvIAA24'"}],"encoding":{"x":{"field":"t","type":"quantitative","title":null,"scale":{"domain":[0.38,4.5],"nice":false},"axis":{"values":[1,2,3,4]}}},"layer":[{"mark":"line","encoding":{"y":{"field":"m","type":"quantitative","title":null,"scale":{"domain":[0,5],"nice":false},"axis":{"tickCount":5}}}},{"mark":{"type":"errorbar","ticks":{"size":11},"color":"#222","thickness":1.5},"encoding":{"y":{"field":"lo","type":"quantitative","title":null,"axis":{"tickCount":5}},"y2":{"field":"hi"}}},{"transform":[{"filter":"datum.t==1"},{"calculate":"datum.cl+':'","as":"lab"}],"mark":{"type":"text","align":"right"},"encoding":{"x":{"datum":1.77},"y":{"datum":5},"text":{"field":"lab"},"color":{"field":"cl","type":"nominal","legend":null,"scale":{"domain":["C1","C2","C3","C4","C5","C6","C7","C8"],"range":["#d8216f","#4a9fd5","#e4561b","#5b3b2e","#b3262b","#5e8d6b","#2d2f5e","#c8222a"]}}}},{"transform":[{"filter":"datum.t==1"}],"mark":{"type":"text","align":"left","dx":6,"fontStyle":"italic","color":"#111"},"encoding":{"x":{"datum":1.77},"y":{"datum":5},"text":{"field":"g"}}}]},
{"width":172,"height":82,"transform":[{"filter":"datum.g=='HvIAA27'"}],"encoding":{"x":{"field":"t","type":"quantitative","title":null,"scale":{"domain":[0.38,4.5],"nice":false},"axis":{"values":[1,2,3,4]}}},"layer":[{"mark":"line","encoding":{"y":{"field":"m","type":"quantitative","title":null,"scale":{"domain":[0,5],"nice":false},"axis":{"tickCount":5}}}},{"mark":{"type":"errorbar","ticks":{"size":11},"color":"#222","thickness":1.5},"encoding":{"y":{"field":"lo","type":"quantitative","title":null,"axis":{"tickCount":5}},"y2":{"field":"hi"}}},{"transform":[{"filter":"datum.t==1"},{"calculate":"datum.cl+':'","as":"lab"}],"mark":{"type":"text","align":"right"},"encoding":{"x":{"datum":1.77},"y":{"datum":5},"text":{"field":"lab"},"color":{"field":"cl","type":"nominal","legend":null,"scale":{"domain":["C1","C2","C3","C4","C5","C6","C7","C8"],"range":["#d8216f","#4a9fd5","#e4561b","#5b3b2e","#b3262b","#5e8d6b","#2d2f5e","#c8222a"]}}}},{"transform":[{"filter":"datum.t==1"}],"mark":{"type":"text","align":"left","dx":6,"fontStyle":"italic","color":"#111"},"encoding":{"x":{"datum":1.77},"y":{"datum":5},"text":{"field":"g"}}}]},
{"width":172,"height":82,"transform":[{"filter":"datum.g=='HvIAA35'"}],"encoding":{"x":{"field":"t","type":"quantitative","title":null,"scale":{"domain":[0.38,4.5],"nice":false},"axis":{"values":[1,2,3,4]}}},"layer":[{"mark":"line","encoding":{"y":{"field":"m","type":"quantitative","title":null,"scale":{"domain":[0,5],"nice":false},"axis":{"tickCount":5}}}},{"mark":{"type":"errorbar","ticks":{"size":11},"color":"#222","thickness":1.5},"encoding":{"y":{"field":"lo","type":"quantitative","title":null,"axis":{"tickCount":5}},"y2":{"field":"hi"}}},{"transform":[{"filter":"datum.t==1"},{"calculate":"datum.cl+':'","as":"lab"}],"mark":{"type":"text","align":"right"},"encoding":{"x":{"datum":1.77},"y":{"datum":5},"text":{"field":"lab"},"color":{"field":"cl","type":"nominal","legend":null,"scale":{"domain":["C1","C2","C3","C4","C5","C6","C7","C8"],"range":["#d8216f","#4a9fd5","#e4561b","#5b3b2e","#b3262b","#5e8d6b","#2d2f5e","#c8222a"]}}}},{"transform":[{"filter":"datum.t==1"}],"mark":{"type":"text","align":"left","dx":6,"fontStyle":"italic","color":"#111"},"encoding":{"x":{"datum":1.77},"y":{"datum":5},"text":{"field":"g"}}}]},
{"width":172,"height":82,"transform":[{"filter":"datum.g=='HvIAA6'"}],"encoding":{"x":{"field":"t","type":"quantitative","title":null,"scale":{"domain":[0.38,4.5],"nice":false},"axis":{"values":[1,2,3,4]}}},"layer":[{"mark":"line","encoding":{"y":{"field":"m","type":"quantitative","title":null,"scale":{"domain":[0,5],"nice":false},"axis":{"tickCount":5}}}},{"mark":{"type":"errorbar","ticks":{"size":11},"color":"#222","thickness":1.5},"encoding":{"y":{"field":"lo","type":"quantitative","title":null,"axis":{"tickCount":5}},"y2":{"field":"hi"}}},{"transform":[{"filter":"datum.t==1"},{"calculate":"datum.cl+':'","as":"lab"}],"mark":{"type":"text","align":"right"},"encoding":{"x":{"datum":1.91},"y":{"datum":5},"text":{"field":"lab"},"color":{"field":"cl","type":"nominal","legend":null,"scale":{"domain":["C1","C2","C3","C4","C5","C6","C7","C8"],"range":["#d8216f","#4a9fd5","#e4561b","#5b3b2e","#b3262b","#5e8d6b","#2d2f5e","#c8222a"]}}}},{"transform":[{"filter":"datum.t==1"}],"mark":{"type":"text","align":"left","dx":6,"fontStyle":"italic","color":"#111"},"encoding":{"x":{"datum":1.91},"y":{"datum":5},"text":{"field":"g"}}}]},
{"width":172,"height":82,"transform":[{"filter":"datum.g=='HvIAA13'"}],"encoding":{"x":{"field":"t","type":"quantitative","title":null,"scale":{"domain":[0.38,4.5],"nice":false},"axis":{"values":[1,2,3,4]}}},"layer":[{"mark":"line","encoding":{"y":{"field":"m","type":"quantitative","title":null,"scale":{"domain":[0,5],"nice":false},"axis":{"tickCount":5}}}},{"mark":{"type":"errorbar","ticks":{"size":11},"color":"#222","thickness":1.5},"encoding":{"y":{"field":"lo","type":"quantitative","title":null,"axis":{"tickCount":5}},"y2":{"field":"hi"}}},{"transform":[{"filter":"datum.t==1"},{"calculate":"datum.cl+':'","as":"lab"}],"mark":{"type":"text","align":"right"},"encoding":{"x":{"datum":1.77},"y":{"datum":5},"text":{"field":"lab"},"color":{"field":"cl","type":"nominal","legend":null,"scale":{"domain":["C1","C2","C3","C4","C5","C6","C7","C8"],"range":["#d8216f","#4a9fd5","#e4561b","#5b3b2e","#b3262b","#5e8d6b","#2d2f5e","#c8222a"]}}}},{"transform":[{"filter":"datum.t==1"}],"mark":{"type":"text","align":"left","dx":6,"fontStyle":"italic","color":"#111"},"encoding":{"x":{"datum":1.77},"y":{"datum":5},"text":{"field":"g"}}}]}
],
"config": {
 "view": {"stroke": null},
 "font": "Liberation Sans",
 "axis": {"grid": false, "domainColor": "#333", "domainWidth": 1.6, "tickColor": "#333", "tickWidth": 1.4, "labelColor": "#111", "labelFont": "Liberation Sans", "labelOverlap": false, "labelBound": false, "labelFlush": false, "titleFont": "Liberation Sans", "titleFontWeight": "normal", "titleColor": "#111", "titleFontSize": 20},
 "axisX": {"tickSize": 6, "labelFontSize": 21, "labelPadding": 6},
 "axisY": {"tickSize": 4, "labelFontSize": 16, "labelPadding": 2, "titlePadding": 10, "tickCount": 5},
 "line": {"color": "#3a5b9c", "strokeWidth": 1.5, "strokeDash": [5, 3]},
 "text": {"fontSize": 21, "baseline": "middle", "font": "Liberation Sans"}
}
}
